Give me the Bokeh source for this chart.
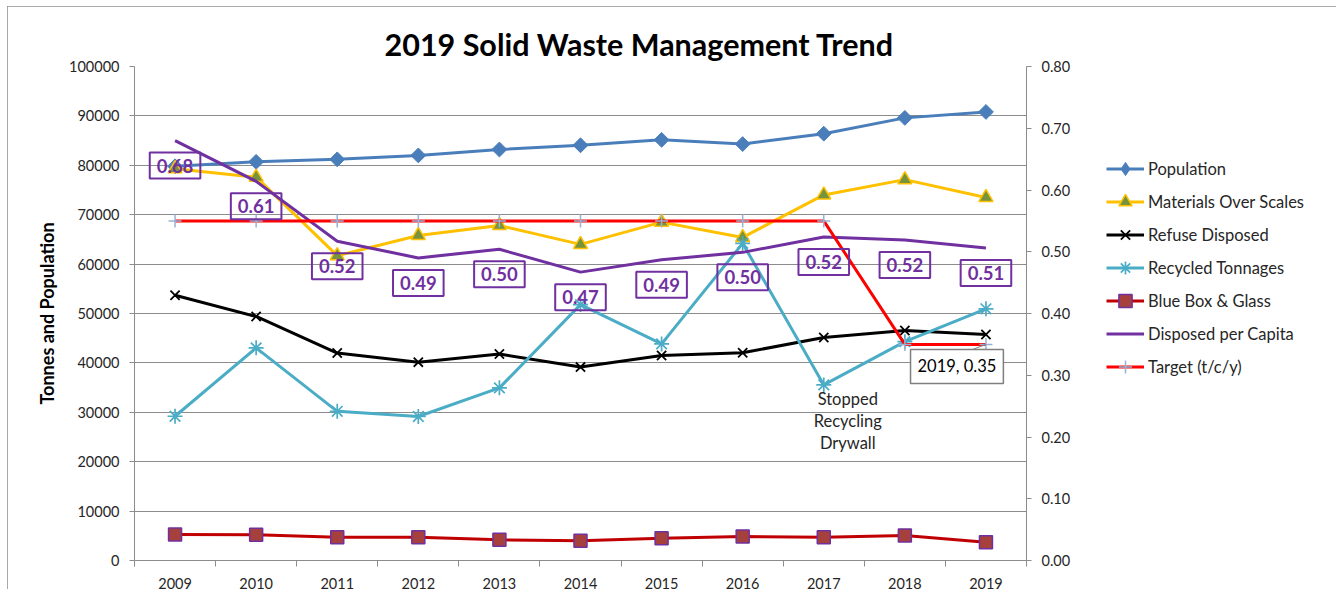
from bokeh.plotting import figure
from bokeh.models import (Range1d, LinearAxis, FixedTicker, NumeralTickFormatter,
                          Legend, LegendItem, ColumnDataSource)
from bokeh.core.properties import value
from bokeh.embed import file_html
from bokeh.resources import INLINE

# ---------------- data ----------------
years = [2009, 2010, 2011, 2012, 2013, 2014, 2015, 2016, 2017, 2018, 2019]
population = [79800, 80700, 81200, 82000, 83200, 84050, 85150, 84300, 86400, 89600, 90800]
materials = [79300, 77600, 61700, 65800, 67800, 64000, 68500, 65400, 74000, 77100, 73500]
refuse = [53700, 49400, 42000, 40150, 41800, 39150, 41500, 42050, 45150, 46550, 45750]
recycled = [29200, 43050, 30200, 29150, 34950, 51800, 43850, 64200, 35550, 44300, 50950]
bluebox = [5260, 5200, 4720, 4720, 4180, 3980, 4520, 4860, 4720, 5060, 3710]
per_capita = [0.68, 0.614, 0.517, 0.490, 0.504, 0.467, 0.487, 0.499, 0.524, 0.519, 0.506]
target = [0.55, 0.55, 0.55, 0.55, 0.55, 0.55, 0.55, 0.55, 0.55, 0.35, 0.35]
target_years = [2009, 2010, 2011, 2012, 2013, 2014, 2015, 2016, 2017, 2018, 2019]
left_ticks = [0, 10000, 20000, 30000, 40000, 50000, 60000, 70000, 80000, 90000, 100000]
right_ticks = [0.0, 0.1, 0.2, 0.3, 0.4, 0.5, 0.6, 0.7, 0.8]

FONT = "Lato"
TXT = "#262626"
GRID = "#8c8c8c"

p = figure(frame_width=892, frame_height=494,
           min_border_left=127, min_border_right=309, min_border_top=60, min_border_bottom=29,
           x_range=Range1d(years[0] - 0.5, years[-1] + 0.5),
           y_range=Range1d(0, 100000),
           output_backend="svg", toolbar_location=None,
           background_fill_color="white", border_fill_color="white")
p.margin = (6, 0, 0, 7)
p.styles = {"outline": "2px solid #8c8c8c", "outline-offset": "-2px"}
p.outline_line_color = None
p.extra_y_ranges = {"right": Range1d(0, 0.8)}

# title
p.title.text = "2019 Solid Waste Management Trend"
p.title.text_font = FONT
p.title.text_font_size = "30.5px"
p.title.text_font_style = "bold"
p.title.text_color = "black"
p.title.align = "left"
p.title.offset = 250

# axes
xa = p.xaxis[0]
xa.ticker = FixedTicker(ticks=years, minor_ticks=[y - 0.5 for y in years] + [years[-1] + 0.5])
xa.major_tick_out = 0
xa.major_tick_in = 0
xa.minor_tick_out = 6
xa.minor_tick_in = 0
xa.minor_tick_line_color = GRID
xa.axis_line_color = GRID
xa.major_label_standoff = 11
xa.major_label_text_font = FONT
xa.major_label_text_font_size = "14.5px"
xa.major_label_text_color = TXT

ya = p.yaxis[0]
ya.ticker = FixedTicker(ticks=left_ticks)
ya.formatter = NumeralTickFormatter(format="0")
ya.axis_line_color = GRID
ya.major_tick_line_color = GRID
ya.major_tick_out = 5
ya.major_tick_in = 0
ya.minor_tick_line_color = None
ya.major_label_text_font = FONT
ya.major_label_text_font_size = "14.5px"
ya.major_label_text_color = TXT
ya.major_label_standoff = 10
ya.axis_label = "Tonnes and Population"
ya.axis_label_text_font = FONT
ya.axis_label_text_font_size = "18px"
ya.axis_label_text_font_style = "bold"
ya.axis_label_text_color = "black"
ya.axis_label_standoff = 8

ra = LinearAxis(y_range_name="right", ticker=FixedTicker(ticks=right_ticks),
                formatter=NumeralTickFormatter(format="0.00"))
ra.axis_line_color = GRID
ra.major_tick_line_color = GRID
ra.major_tick_out = 5
ra.major_tick_in = 0
ra.minor_tick_line_color = None
ra.major_label_text_font = FONT
ra.major_label_text_font_size = "14.5px"
ra.major_label_text_color = TXT
ra.major_label_standoff = 10
p.add_layout(ra, "right")

p.xgrid.visible = False
p.ygrid.ticker = FixedTicker(ticks=left_ticks)
p.ygrid.grid_line_color = GRID
p.ygrid.grid_line_width = 1

# ---------------- series ----------------
items = []

l = p.line(years, population, line_color="#4A7EBB", line_width=3)
m = p.scatter(years, population, marker="square", angle=0.785, size=10.5,
              fill_color="#4A7EBB", line_color="#4A7EBB")
# legend-only diamond (not drawn in the plot) so the legend swatch shows a diamond
d = p.scatter([float("nan")], [float("nan")], marker="diamond", size=14,
              fill_color="#4A7EBB", line_color="#4A7EBB")
items.append(LegendItem(label="Population", renderers=[l, d]))

l = p.line(years, materials, line_color="#FFC000", line_width=3)
m = p.scatter(years, materials, marker="triangle", size=14,
              fill_color="#77933C", line_color="#FFC000", line_width=1.5)
items.append(LegendItem(label="Materials Over Scales", renderers=[l, m]))

l = p.line(years, refuse, line_color="black", line_width=3)
m = p.scatter(years, refuse, marker="x", size=13, line_color="black", line_width=1.8)
items.append(LegendItem(label="Refuse Disposed", renderers=[l, m]))

l = p.line(years, recycled, line_color="#4BACC6", line_width=3)
m = p.scatter(years, recycled, marker="asterisk", size=15, line_color="#4BACC6", line_width=1.7)
items.append(LegendItem(label="Recycled Tonnages", renderers=[l, m]))

l = p.line(years, bluebox, line_color="#C00000", line_width=3)
m = p.scatter(years, bluebox, marker="square", size=13,
              fill_color="#A5403C", line_color="#7030A0", line_width=1.5)
items.append(LegendItem(label="Blue Box & Glass", renderers=[l, m]))

l = p.line(years, per_capita, line_color="#7030A0", line_width=3, y_range_name="right")
items.append(LegendItem(label="Disposed per Capita", renderers=[l]))

l = p.line(target_years, target, line_color="#FF0000", line_width=3, y_range_name="right")
m = p.scatter(target_years, target, marker="cross", size=13, line_color="#95B3D7",
              line_width=1.5, y_range_name="right")
items.append(LegendItem(label="Target (t/c/y)", renderers=[l, m]))

# data labels for per-capita
lab_src = ColumnDataSource(dict(x=years, y=per_capita, t=["%.2f" % v for v in per_capita]))
p.text(x="x", y="y", text="t", source=lab_src, y_range_name="right",
       y_offset=25, text_align="center", text_baseline="middle",
       text_font=value(FONT), text_font_size="18.5px", text_font_style="bold",
       text_color="#7030A0", border_line_color="#7030A0", border_line_width=2,
       padding=(7, 6))

# annotation: stopped recycling drywall
p.text(x=[years[8]], y=[recycled[8]], text=["Stopped\nRecycling\nDrywall"],
       x_offset=24, y_offset=4, text_align="center", text_baseline="top",
       text_font=value(FONT), text_font_size="16.5px", text_color=TXT,
       text_line_height=1.1)

# callout for last target value
px_per_year = 892 / (len(years))
p.segment(x0=[target_years[-1]], y0=[target[-1]],
          x1=[target_years[-1] - 21 / px_per_year], y1=[target[-1] - 8 * 0.8 / 494],
          line_color="#7f7f7f", line_width=1, y_range_name="right")
p.text(x=[target_years[-1]], y=[target[-1]], text=["%d, %.2f" % (target_years[-1], target[-1])],
       x_offset=-29, y_offset=22, text_align="center", text_baseline="middle",
       text_font=value(FONT), text_font_size="16.5px", text_color="black",
       background_fill_color="white", border_line_color="#7f7f7f", border_line_width=1.5,
       padding=(7, 7), y_range_name="right")

legend = Legend(items=items, location=(-198, 177), orientation="vertical",
                border_line_color=None, background_fill_alpha=0,
                padding=0, margin=0, spacing=0,
                glyph_width=38, glyph_height=33, label_height=33, label_standoff=4,
                label_text_font=FONT, label_text_font_size="16.5px", label_text_color=TXT)
p.add_layout(legend, "right")

open("out.html", "w").write(file_html(p, INLINE))
